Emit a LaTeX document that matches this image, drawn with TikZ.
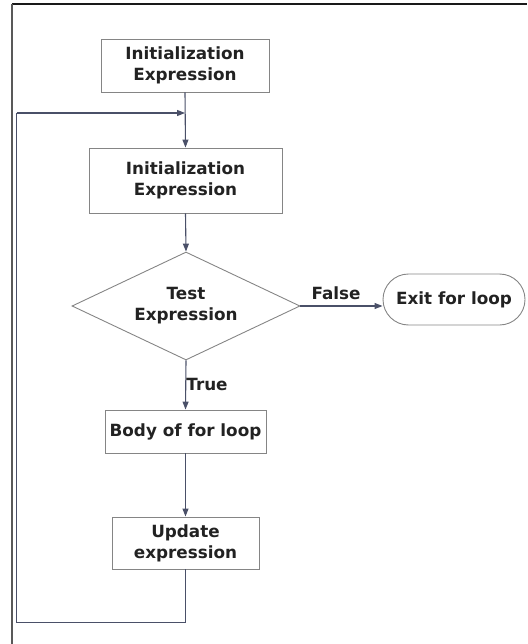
\documentclass[tikz,border=0pt]{standalone}
\usepackage{fontspec}
\setmainfont{DejaVu Sans}
\usetikzlibrary{shapes.geometric,shapes.misc,arrows.meta,calc}

\definecolor{flowline}{HTML}{4A5068}
\definecolor{boxline}{HTML}{858585}
\definecolor{labeltext}{HTML}{222222}

\tikzset{
  x=1pt, y=1pt,
  boxtext/.style={font=\bfseries\fontsize{16.8}{21}\selectfont, text=labeltext, align=center},
  procbox/.style={boxtext, draw=boxline, line width=0.9pt, rectangle, inner sep=0pt},
  decision/.style={boxtext, draw=boxline, line width=0.9pt, diamond, inner sep=0pt},
  terminal/.style={boxtext, draw=boxline, line width=0.9pt, rounded rectangle, inner sep=0pt},
  flow/.style={draw=flowline, line width=1.1pt, -{Triangle[length=8pt,width=6pt]}},
  plainflow/.style={draw=flowline, line width=1.1pt},
  edgelabel/.style={font=\bfseries\fontsize{16.8}{20}\selectfont, text=labeltext},
}

\begin{document}
\begin{tikzpicture}
  \useasboundingbox (0,0) rectangle (527,-644);

  % frame
  \draw[line width=1.5pt, draw=black!90] (12,-4) -- (527,-4);
  \draw[line width=1.6pt, draw=black!65] (12,-4) -- (12,-644);

  % blocks
  \node[procbox, minimum width=168pt, minimum height=53pt] (init1) at (185,-65.5) {Initialization\\Expression};
  \node[procbox, minimum width=193pt, minimum height=65pt] (init2) at (185.5,-180.5) {Initialization\\Expression};
  \node[decision, minimum width=228pt, minimum height=108pt, aspect=2.11] (test) at (186,-306) {Test\\Expression};
  \node[terminal, minimum width=142pt, minimum height=51pt] (exit) at (454,-299.5) {Exit for loop};
  \node[procbox, minimum width=161pt, minimum height=43pt] (body) at (185.5,-431.5) {Body of for loop};
  \node[procbox, minimum width=147pt, minimum height=52pt] (update) at (185.5,-543) {Update\\expression};

  % loop-back corners
  \coordinate (joinpt) at (185,-113);
  \coordinate (loopbr) at (185.5,-622.5);
  \coordinate (loopbl) at (16.5,-622.5);
  \coordinate (looptl) at (16.5,-113);

  % connectors
  \draw[flow] (init1.south) -- (init2.north);
  \draw[flow] (init2.south) -- (test.north);
  \draw[flow] (test.east) -- (test.east -| exit.west);
  \draw[flow] (test.south) -- (body.north);
  \draw[flow] (body.south) -- (update.north);
  \draw[plainflow] (update.south) -- (loopbr) -- (loopbl) -- (looptl);
  \draw[flow] (looptl) -- (joinpt);

  % branch labels
  \node[edgelabel] (falselbl) at (336,-293) {False};
  \node[edgelabel] (truelbl) at (207,-384) {True};
\end{tikzpicture}
\end{document}
